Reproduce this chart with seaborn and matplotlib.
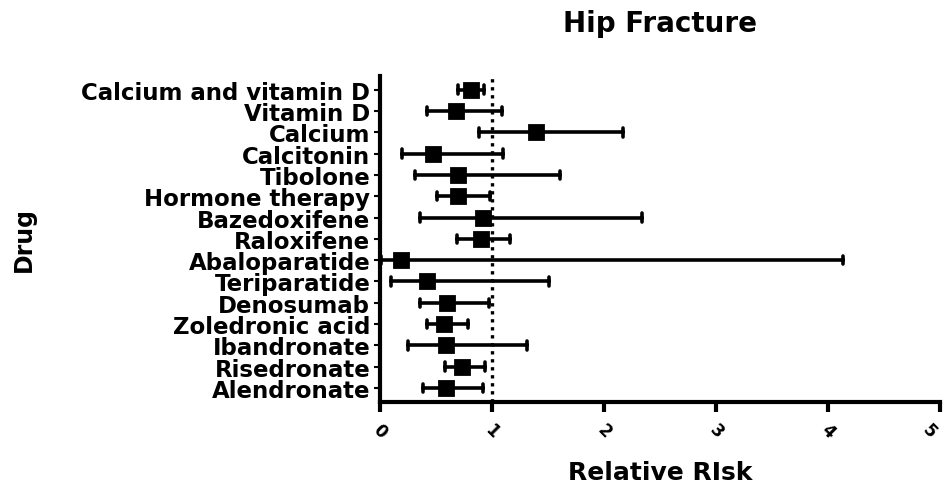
import numpy as np
import pandas as pd
import matplotlib
matplotlib.use("Agg")
import matplotlib.pyplot as plt
import seaborn as sns

# ── Data (relative risk, lower CI, upper CI) ──────────────────────────────────
drugs = ["Calcium and vitamin D", "Vitamin D", "Calcium", "Calcitonin",
         "Tibolone", "Hormone therapy", "Bazedoxifene", "Raloxifene",
         "Abaloparatide", "Teriparatide", "Denosumab", "Zoledronic acid",
         "Ibandronate", "Risedronate", "Alendronate"]
rr    = [0.81, 0.68, 1.39, 0.47, 0.70, 0.70, 0.92, 0.90,
         0.19, 0.42, 0.60, 0.57, 0.59, 0.73, 0.59]
ci_lo = [0.70, 0.42, 0.88, 0.20, 0.31, 0.51, 0.36, 0.69,
         0.01, 0.10, 0.36, 0.42, 0.25, 0.58, 0.38]
ci_hi = [0.93, 1.09, 2.17, 1.10, 1.61, 0.98, 2.34, 1.16,
         4.13, 1.51, 0.97, 0.79, 1.31, 0.94, 0.92]
x_ticks = [0, 1, 2, 3, 4, 5]

# long form: median of (lo, rr, hi) = rr, 100% interval = lo..hi
df = pd.DataFrame({
    "Drug": drugs * 3,
    "RR": ci_lo + rr + ci_hi,
})

sns.set_style("ticks", {"axes.edgecolor": "black", "text.color": "black",
                        "axes.labelcolor": "black", "xtick.color": "black",
                        "ytick.color": "black"})
plt.rcParams['font.family'] = ['DejaVu Sans']
plt.rcParams['font.weight'] = 'bold'

fig = plt.figure(figsize=(9.46, 4.89), dpi=100)
ax = fig.add_axes([0.4017, 0.176, 0.592, 0.667])

sns.pointplot(data=df, x="RR", y="Drug", order=drugs, estimator="median",
              errorbar=("pi", 100), color="black", marker="s", markersize=10,
              linestyle="none", capsize=0.4,
              err_kws={"linewidth": 2.6}, ax=ax)

ax.axvline(1, color="black", linestyle=(0, (1, 1.4)), linewidth=2.4, zorder=0)

ax.set_xlim(0, 5)
ax.set_ylim(len(drugs) - 0.35, -0.65)
ax.set_xticks(x_ticks)
ax.set_xticklabels([str(t) for t in x_ticks], rotation=-45, ha="center",
                   fontsize=12, fontweight="bold")
ax.tick_params(axis="x", length=7, width=3, pad=6)
ax.tick_params(axis="y", length=4, width=1.5, labelsize=16.5, pad=3)
for lbl in ax.get_yticklabels():
    lbl.set_fontweight("bold")
# keep the last tick label inside the figure edge
ax.get_xticklabels()[-1].set_ha("right")

sns.despine(ax=ax)
for side in ["left", "bottom"]:
    ax.spines[side].set_linewidth(3)

ax.set_xlabel("Relative RIsk", fontsize=18, fontweight="bold", labelpad=14)
ax.set_ylabel("")
fig.text(0.025, 0.51, "Drug", rotation=90, fontsize=17, fontweight="bold",
         ha="center", va="center")
ax.set_title("Hip Fracture", fontsize=20, fontweight="bold", pad=32)

fig.savefig("out.png", dpi=100)
